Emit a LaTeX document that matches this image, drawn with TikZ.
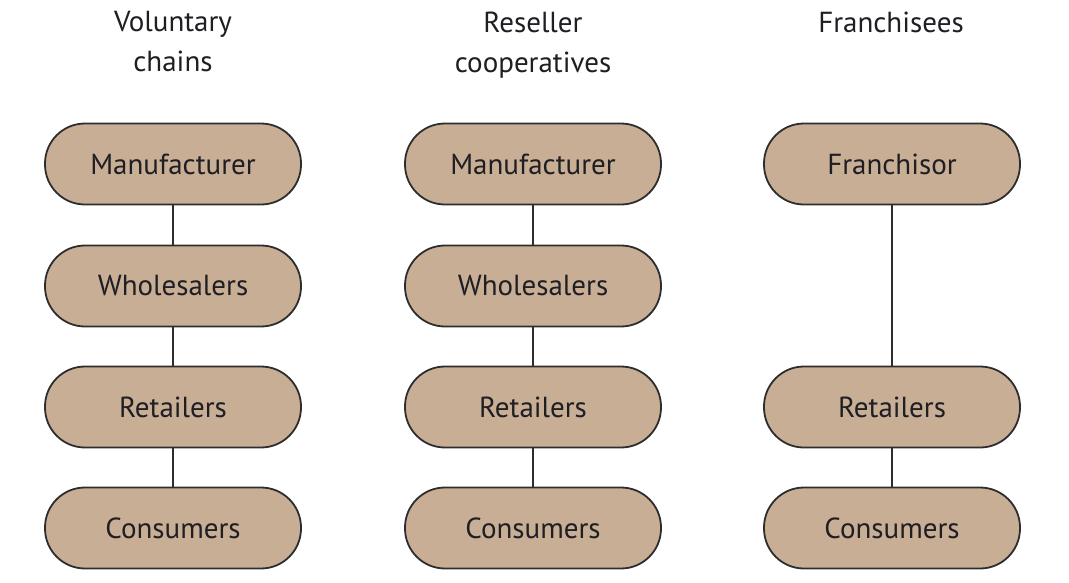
\documentclass[tikz,border=0pt]{standalone}
\usepackage{fontspec}
\setmainfont{PT Sans}
\definecolor{boxfill}{RGB}{201,174,150}
\definecolor{edge}{RGB}{45,45,45}
\definecolor{txt}{RGB}{30,30,35}
\begin{document}
\begin{tikzpicture}[x=1pt,y=-1pt,
  box/.style={draw=edge,line width=1.8pt,fill=boxfill,rounded corners=40pt,
    minimum width=256pt,minimum height=81pt,inner sep=0pt,
    font=\fontsize{29}{34}\selectfont,text=txt},
  head/.style={align=center,font=\fontsize{29}{40}\selectfont,text=txt},
  link/.style={draw=edge,line width=1.4pt}]
\useasboundingbox (0,0) rectangle (1069,582);
\node[head] (h1) at (173,42) {Voluntary\\chains};
\node[head] (h2) at (533,45) {Reseller\\cooperatives};
\node[head] (h3) at (891,22) {Franchisees};
\node[box] (m1) at (173,164) {Manufacturer};
\node[box] (w1) at (173,286) {Wholesalers};
\node[box] (r1) at (173,407) {Retailers};
\node[box] (c1) at (173,528) {Consumers};
\node[box] (m2) at (533,164) {Manufacturer};
\node[box] (w2) at (533,286) {Wholesalers};
\node[box] (r2) at (533,407) {Retailers};
\node[box] (c2) at (533,528) {Consumers};
\node[box] (f3) at (892,164) {Franchisor};
\node[box] (r3) at (892,407) {Retailers};
\node[box] (c3) at (892,528) {Consumers};
\draw[link] (m1) -- (w1);
\draw[link] (w1) -- (r1);
\draw[link] (r1) -- (c1);
\draw[link] (m2) -- (w2);
\draw[link] (w2) -- (r2);
\draw[link] (r2) -- (c2);
\draw[link] (f3) -- (r3);
\draw[link] (r3) -- (c3);
\end{tikzpicture}
\end{document}
